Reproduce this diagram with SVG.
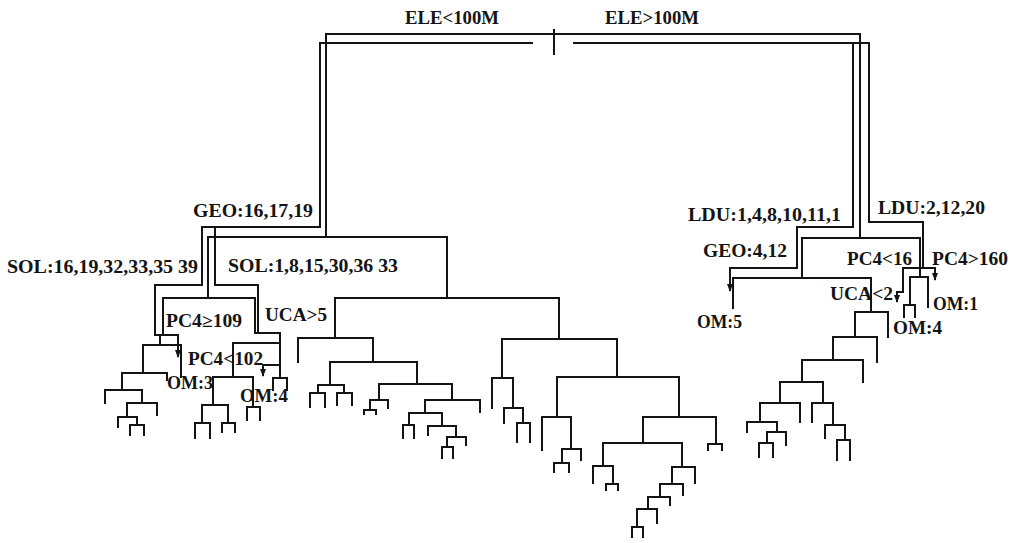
<svg xmlns="http://www.w3.org/2000/svg" width="1020" height="543" viewBox="0 0 1020 543">
<style>
.ln{fill:none;stroke:#141414;stroke-width:2;stroke-linecap:square;stroke-linejoin:miter}
.ar{fill:none;stroke:#141414;stroke-width:2;marker-end:url(#ah)}
.t{font-family:"Liberation Serif","Times New Roman",serif;font-size:18px;font-weight:bold;fill:#141414}
</style>
<defs>
<marker id="ah" viewBox="0 0 8 8" refX="7" refY="4" markerWidth="8" markerHeight="8" markerUnits="userSpaceOnUse" orient="auto">
<path d="M0,1 L8,4 L0,7 z" fill="#141414"/>
</marker>
</defs>
<rect width="1020" height="543" fill="#fff"/>
<g id="connectors">
<!-- top -->
<path class="ln" d="M326,237 V34 H860 V238"/>
<path class="ln" d="M320,227 V43 H532 M574,43 H869 V222"/>
<path class="ln" d="M853,43 V227 M554,30 V54"/>
<!-- left upper paths -->
<path class="ln" d="M320,227 H202 V285 H155 V335"/>
<path class="ln" d="M215,227 V285 H258 V333"/>
<path class="ln" d="M208,237 H447 V298 M208,237 V298"/>
<path class="ln" d="M163,298 H255 V333 M163,298 V335"/>
<path class="ar" d="M155,335 H178 V357"/>
<!-- left cluster A -->
<path class="ln" d="M160,335 V345 M143,345 H181 V377 M143,345 V373 M122,373 H167 V380 M122,373 V390"/>
<path class="ln" d="M105,390 H142 V403 M105,390 V403 M127,403 H157 V415 M127,403 V417"/>
<path class="ln" d="M118,417 H137 V425 M118,417 V427 M130,425 H144 V435 M130,425 V435"/>
<!-- left cluster B -->
<path class="ln" d="M255,333 H280 V378 M273,378 H287 V390 M273,378 V390 M233,343 H280 M233,343 V377"/>
<path class="ar" d="M279,365 H263 V376"/>
<path class="ln" d="M213,377 H253 M213,377 V405 M202,405 H228 M202,405 V423 M195,423 H210 V438 M195,423 V438"/>
<path class="ln" d="M228,405 V423 M222,423 H235 V432 M222,423 V432 M253,377 V407 M247,407 H260 V420 M247,407 V420"/>
<!-- middle cluster -->
<path class="ln" d="M335,298 H559 M335,298 V338 M298,338 H373 V362 M298,338 V362 M330,362 H417"/>
<path class="ln" d="M330,362 V385 M318,385 H344 M318,385 V393 M310,393 H325 V407 M310,393 V407 M344,385 V393 M337,393 H352 V405 M337,393 V405"/>
<path class="ln" d="M417,362 V384 M379,384 H452 M379,384 V400 M370,400 H388 V408 M370,400 V410 M364,410 H376 V414 M364,410 V414"/>
<path class="ln" d="M452,384 V400 M425,400 H480 V412 M425,400 V413 M409,413 H442 V426 M409,413 V425 M403,425 H414 V438 M403,425 V438"/>
<path class="ln" d="M428,426 H456 V437 M428,426 V435 M447,437 H466 V445 M447,437 V447 M442,447 H453 V458 M442,447 V458"/>
<!-- middle-right cluster -->
<path class="ln" d="M559,298 V339 M502,339 H617 M502,339 V378 M492,378 H513 V408 M492,378 V408 M504,408 H523 V423 M504,408 V423 M517,423 H530 V442 M517,423 V442"/>
<path class="ln" d="M617,339 V377 M557,377 H679 M557,377 V417 M542,417 H571 V449 M542,417 V450 M562,449 H581 V460 M562,449 V463 M554,463 H569 V472 M554,463 V472"/>
<path class="ln" d="M679,377 V417 M643,417 H716 V444 M708,444 H722 V450 M708,444 V450 M643,417 V443 M603,443 H682"/>
<path class="ln" d="M603,443 V466 M593,466 H613 V484 M593,466 V483 M606,484 H618 V490 M606,484 V490"/>
<path class="ln" d="M682,443 V467 M672,467 H695 V483 M672,467 V484 M660,484 H683 V495 M660,484 V497 M648,497 H670 V505 M648,497 V509 M637,509 H657 V523 M637,509 V527 M632,527 H643 V537 M632,527 V537"/>
<!-- right side -->
<path class="ar" d="M853,227 H797 V268 H730 V291"/>
<path class="ln" d="M802,238 H920 V277 M802,238 V278 M733,278 H871 V312 M733,278 V308"/>
<path class="ln" d="M855,312 H888 V337 M855,312 V337 M833,337 H877 V362 M833,337 V360 M802,360 H863 V382 M802,360 V382 M780,382 H823"/>
<path class="ln" d="M780,382 V403 M760,403 H800 V422 M760,403 V422 M747,422 H777 V432 M747,422 V432 M767,432 H786 V445 M767,432 V443 M759,443 H773 V457 M759,443 V457"/>
<path class="ln" d="M823,382 V403 M812,403 H833 V425 M812,403 V422 M825,425 H845 V440 M825,425 V438 M837,440 H850 V460 M837,440 V460"/>
<path class="ln" d="M869,222 H923 V268 M903,268 H935"/>
<path class="ar" d="M935,268 V280"/>
<path class="ar" d="M903,268 V292 H897 V302"/>
<path class="ln" d="M910,277 H928 V307 M910,277 V305 M904,305 H915 V317 M904,305 V317"/>
</g>
<g id="n-ele-lt"><text class="t" x="405" y="24" textLength="94" lengthAdjust="spacingAndGlyphs">ELE&lt;100M</text></g>
<g id="n-ele-gt"><text class="t" x="605" y="24" textLength="94" lengthAdjust="spacingAndGlyphs">ELE&gt;100M</text></g>
<g id="n-geo1"><text class="t" x="193" y="217" textLength="120" lengthAdjust="spacingAndGlyphs">GEO:16,17,19</text></g>
<g id="n-sol1"><text class="t" x="7" y="273" textLength="191" lengthAdjust="spacingAndGlyphs">SOL:16,19,32,33,35 39</text></g>
<g id="n-sol2"><text class="t" x="228" y="272" textLength="170" lengthAdjust="spacingAndGlyphs">SOL:1,8,15,30,36 33</text></g>
<g id="n-pc4-109"><text class="t" x="166" y="327" textLength="76" lengthAdjust="spacingAndGlyphs">PC4≥109</text></g>
<g id="n-uca5"><text class="t" x="265" y="321" textLength="62" lengthAdjust="spacingAndGlyphs">UCA&gt;5</text></g>
<g id="n-pc4-102"><text class="t" x="188" y="365" textLength="75" lengthAdjust="spacingAndGlyphs">PC4&lt;102</text></g>
<g id="n-om3"><text class="t" x="167" y="389" textLength="46" lengthAdjust="spacingAndGlyphs">OM:3</text></g>
<g id="n-om4a"><text class="t" x="240" y="402" textLength="48" lengthAdjust="spacingAndGlyphs">OM:4</text></g>
<g id="n-ldu1"><text class="t" x="688" y="221" textLength="153" lengthAdjust="spacingAndGlyphs">LDU:1,4,8,10,11,1</text></g>
<g id="n-ldu2"><text class="t" x="878" y="214" textLength="107" lengthAdjust="spacingAndGlyphs">LDU:2,12,20</text></g>
<g id="n-geo2"><text class="t" x="703" y="257" textLength="84" lengthAdjust="spacingAndGlyphs">GEO:4,12</text></g>
<g id="n-pc4-16"><text class="t" x="847" y="265" textLength="65" lengthAdjust="spacingAndGlyphs">PC4&lt;16</text></g>
<g id="n-pc4-160"><text class="t" x="932" y="265" textLength="76" lengthAdjust="spacingAndGlyphs">PC4&gt;160</text></g>
<g id="n-uca2"><text class="t" x="830" y="300" textLength="63" lengthAdjust="spacingAndGlyphs">UCA&lt;2</text></g>
<g id="n-om1"><text class="t" x="933" y="310" textLength="45" lengthAdjust="spacingAndGlyphs">OM:1</text></g>
<g id="n-om4b"><text class="t" x="893" y="334" textLength="49" lengthAdjust="spacingAndGlyphs">OM:4</text></g>
<g id="n-om5"><text class="t" x="697" y="328" textLength="45" lengthAdjust="spacingAndGlyphs">OM:5</text></g>
</svg>
